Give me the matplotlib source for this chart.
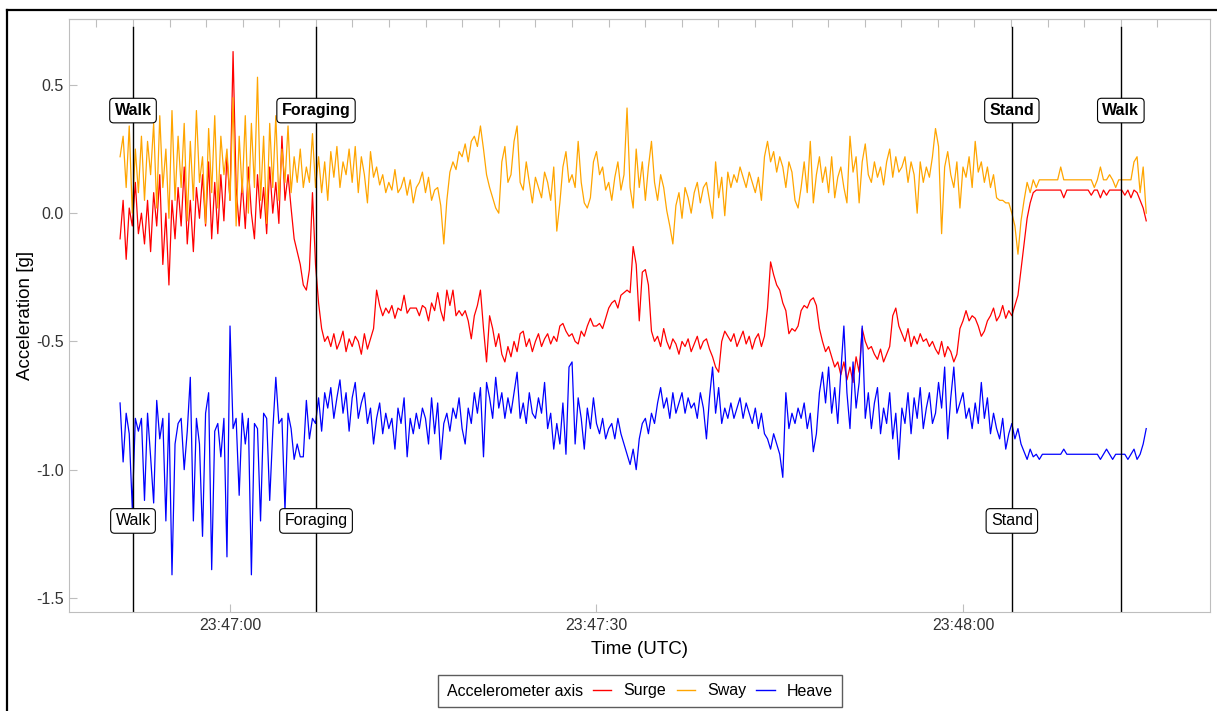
import matplotlib
matplotlib.use("Agg")

import matplotlib.pyplot as plt
import pandas as pd
from matplotlib.lines import Line2D
from matplotlib.offsetbox import HPacker

plt.rcParams["font.family"] = ["Liberation Sans", "DejaVu Sans"]
plt.rcParams["axes.unicode_minus"] = False

# accelerometer trace, one sample every 250 ms from 23:46:51
DAY = "2021-03-14"
START = f"{DAY} 23:46:51"
STEP = "250ms"

surge = [
    -0.10, 0.05, -0.18, 0.02, -0.05, 0.12, -0.08, 0.00,
    -0.12, 0.05, -0.15, 0.08, -0.05, 0.15, -0.20, 0.00,
    -0.28, 0.05, -0.10, 0.10, -0.05, 0.18, -0.12, 0.05,
    -0.15, 0.10, -0.02, 0.15, -0.05, 0.20, -0.10, 0.12,
    -0.08, 0.15, -0.03, 0.22, 0.05, 0.63, 0.10, -0.05,
    0.12, -0.06, 0.18, 0.00, -0.10, 0.15, -0.02, 0.10,
    -0.08, 0.18, 0.00, 0.12, -0.04, 0.30, 0.05, 0.15,
    0.02, -0.10, -0.15, -0.20, -0.28, -0.30, -0.22, 0.08,
    -0.20, -0.35, -0.45, -0.50, -0.48, -0.52, -0.47, -0.53,
    -0.50, -0.46, -0.54, -0.49, -0.52, -0.48, -0.50, -0.55,
    -0.47, -0.53, -0.49, -0.45, -0.30, -0.36, -0.40, -0.37,
    -0.39, -0.36, -0.41, -0.37, -0.38, -0.32, -0.39, -0.37,
    -0.37, -0.37, -0.40, -0.36, -0.37, -0.42, -0.35, -0.38,
    -0.31, -0.38, -0.42, -0.30, -0.36, -0.30, -0.40, -0.38,
    -0.40, -0.38, -0.42, -0.49, -0.40, -0.36, -0.30, -0.45,
    -0.58, -0.40, -0.45, -0.52, -0.47, -0.55, -0.58, -0.52,
    -0.56, -0.50, -0.54, -0.47, -0.46, -0.52, -0.49, -0.54,
    -0.50, -0.47, -0.52, -0.49, -0.47, -0.51, -0.48, -0.50,
    -0.44, -0.43, -0.46, -0.48, -0.47, -0.50, -0.51, -0.46,
    -0.48, -0.44, -0.41, -0.44, -0.44, -0.43, -0.45, -0.41,
    -0.37, -0.35, -0.34, -0.37, -0.32, -0.31, -0.30, -0.31,
    -0.13, -0.20, -0.42, -0.23, -0.22, -0.28, -0.46, -0.50,
    -0.48, -0.52, -0.45, -0.50, -0.53, -0.49, -0.51, -0.55,
    -0.50, -0.52, -0.49, -0.54, -0.51, -0.48, -0.53, -0.50,
    -0.49, -0.53, -0.56, -0.60, -0.62, -0.50, -0.46, -0.48,
    -0.50, -0.47, -0.52, -0.49, -0.46, -0.51, -0.48, -0.53,
    -0.49, -0.47, -0.52, -0.48, -0.37, -0.19, -0.24, -0.28,
    -0.30, -0.35, -0.38, -0.47, -0.45, -0.46, -0.44, -0.38,
    -0.36, -0.37, -0.34, -0.33, -0.36, -0.45, -0.50, -0.54,
    -0.52, -0.56, -0.60, -0.58, -0.63, -0.58, -0.65, -0.60,
    -0.66, -0.56, -0.62, -0.45, -0.50, -0.53, -0.52, -0.55,
    -0.57, -0.53, -0.58, -0.55, -0.52, -0.40, -0.37, -0.44,
    -0.47, -0.50, -0.45, -0.52, -0.48, -0.51, -0.47, -0.50,
    -0.49, -0.52, -0.50, -0.53, -0.55, -0.50, -0.56, -0.52,
    -0.54, -0.58, -0.55, -0.45, -0.42, -0.38, -0.42, -0.40,
    -0.41, -0.44, -0.48, -0.46, -0.42, -0.40, -0.37, -0.42,
    -0.40, -0.36, -0.41, -0.38, -0.40, -0.36, -0.32, -0.22,
    -0.12, -0.02, 0.04, 0.08, 0.09, 0.09, 0.09, 0.09,
    0.09, 0.09, 0.09, 0.09, 0.09, 0.06, 0.09, 0.09,
    0.09, 0.09, 0.09, 0.09, 0.09, 0.09, 0.07, 0.09,
    0.09, 0.06, 0.09, 0.07, 0.09, 0.09, 0.09, 0.09,
    0.09, 0.07, 0.09, 0.06, 0.09, 0.08, 0.05, 0.02,
    -0.03,
]

sway = [
    0.22, 0.30, 0.10, 0.34, 0.00, 0.25, 0.08, 0.30,
    0.05, 0.28, 0.15, 0.35, 0.02, 0.38, 0.10, 0.25,
    -0.02, 0.40, 0.05, 0.30, 0.10, 0.35, -0.03, 0.28,
    0.05, 0.40, 0.12, 0.22, -0.04, 0.33, 0.08, 0.38,
    0.02, 0.30, 0.15, 0.25, 0.05, 0.45, -0.05, 0.30,
    0.08, 0.38, 0.00, 0.35, 0.10, 0.53, 0.05, 0.30,
    -0.04, 0.35, 0.10, 0.38, 0.05, 0.25, 0.12, 0.34,
    0.08, 0.22, 0.12, 0.25, 0.10, 0.18, 0.12, 0.31,
    0.10, 0.22, 0.08, 0.20, 0.05, 0.24, 0.14, 0.26,
    0.10, 0.20, 0.15, 0.25, 0.12, 0.26, 0.08, 0.22,
    0.15, 0.04, 0.24, 0.14, 0.18, 0.11, 0.15, 0.08,
    0.12, 0.09, 0.17, 0.08, 0.10, 0.14, 0.07, 0.13,
    0.04, 0.10, 0.12, 0.16, 0.08, 0.14, 0.05, 0.09,
    0.10, 0.03, -0.12, 0.05, 0.16, 0.20, 0.17, 0.24,
    0.22, 0.27, 0.20, 0.28, 0.30, 0.26, 0.34, 0.25,
    0.15, 0.10, 0.06, 0.02, 0.00, 0.20, 0.26, 0.12,
    0.15, 0.28, 0.34, 0.12, 0.09, 0.20, 0.12, 0.04,
    0.14, 0.10, 0.06, 0.16, 0.12, 0.05, 0.18, -0.07,
    0.04, 0.18, 0.24, 0.12, 0.15, 0.10, 0.28, 0.12,
    0.04, 0.02, 0.06, 0.20, 0.24, 0.15, 0.18, 0.09,
    0.12, 0.05, 0.14, 0.20, 0.09, 0.15, 0.41, 0.10,
    0.02, 0.25, 0.10, 0.20, 0.05, 0.18, 0.28, 0.12,
    0.05, 0.15, 0.10, 0.01, -0.05, -0.12, 0.03, 0.08,
    -0.02, 0.10, 0.06, 0.00, 0.08, 0.12, 0.04, 0.10,
    0.12, 0.05, -0.02, 0.20, 0.06, 0.14, -0.01, 0.16,
    0.10, 0.15, 0.12, 0.18, 0.14, 0.10, 0.16, 0.12,
    0.08, 0.14, 0.05, 0.22, 0.28, 0.20, 0.24, 0.16,
    0.22, 0.18, 0.10, 0.20, 0.16, 0.05, 0.02, 0.10,
    0.20, 0.08, 0.28, 0.04, 0.15, 0.22, 0.12, 0.18,
    0.08, 0.22, 0.06, 0.14, 0.18, 0.10, 0.04, 0.30,
    0.16, 0.22, 0.04, 0.20, 0.27, 0.15, 0.12, 0.20,
    0.14, 0.18, 0.11, 0.20, 0.25, 0.14, 0.22, 0.16,
    0.18, 0.22, 0.12, 0.20, 0.15, 0.00, 0.20, 0.12,
    0.18, 0.14, 0.22, 0.33, 0.26, -0.08, 0.18, 0.24,
    0.15, 0.10, 0.20, 0.02, 0.18, 0.14, 0.22, 0.10,
    0.28, 0.16, 0.20, 0.12, 0.18, 0.10, 0.15, 0.06,
    0.05, 0.05, 0.04, 0.04, 0.00, -0.05, -0.16, -0.03,
    0.05, 0.12, 0.08, 0.13, 0.10, 0.13, 0.13, 0.13,
    0.13, 0.13, 0.13, 0.13, 0.18, 0.13, 0.13, 0.13,
    0.13, 0.13, 0.13, 0.13, 0.13, 0.13, 0.13, 0.10,
    0.13, 0.18, 0.13, 0.13, 0.15, 0.13, 0.10, 0.13,
    0.13, 0.13, 0.13, 0.13, 0.20, 0.22, 0.08, 0.18,
    0.00,
]

heave = [
    -0.74, -0.97, -0.78, -0.86, -1.15, -0.80, -0.85, -0.80,
    -1.12, -0.78, -0.95, -1.13, -0.73, -0.88, -0.80, -1.20,
    -0.78, -1.41, -0.90, -0.82, -0.80, -1.00, -0.85, -0.64,
    -1.20, -0.80, -0.90, -1.26, -0.78, -0.70, -1.39, -0.85,
    -0.82, -0.95, -0.80, -1.34, -0.44, -0.84, -0.80, -1.10,
    -0.78, -0.90, -0.80, -1.41, -0.82, -0.84, -1.20, -0.78,
    -0.80, -1.12, -0.85, -0.64, -0.82, -0.80, -1.16, -0.78,
    -0.84, -0.96, -0.90, -0.95, -0.95, -0.73, -0.88, -0.80,
    -0.82, -0.72, -0.85, -0.70, -0.76, -0.68, -0.80, -0.72,
    -0.65, -0.78, -0.70, -0.85, -0.72, -0.66, -0.80, -0.74,
    -0.70, -0.82, -0.76, -0.90, -0.80, -0.74, -0.86, -0.78,
    -0.84, -0.80, -0.92, -0.76, -0.82, -0.72, -0.95, -0.80,
    -0.86, -0.78, -0.84, -0.76, -0.80, -0.90, -0.72, -0.86,
    -0.74, -0.96, -0.82, -0.78, -0.85, -0.76, -0.80, -0.72,
    -0.84, -0.90, -0.76, -0.82, -0.70, -0.78, -0.68, -0.95,
    -0.66, -0.72, -0.80, -0.64, -0.76, -0.70, -0.80, -0.72,
    -0.78, -0.70, -0.62, -0.80, -0.74, -0.82, -0.70, -0.78,
    -0.80, -0.72, -0.78, -0.66, -0.84, -0.78, -0.92, -0.82,
    -0.90, -0.74, -0.94, -0.60, -0.58, -0.90, -0.72, -0.80,
    -0.92, -0.76, -0.84, -0.72, -0.82, -0.86, -0.80, -0.88,
    -0.84, -0.82, -0.88, -0.80, -0.86, -0.90, -0.94, -0.98,
    -0.92, -1.00, -0.88, -0.82, -0.80, -0.86, -0.78, -0.82,
    -0.74, -0.68, -0.76, -0.72, -0.80, -0.70, -0.78, -0.74,
    -0.70, -0.78, -0.72, -0.76, -0.74, -0.80, -0.70, -0.76,
    -0.88, -0.72, -0.60, -0.78, -0.68, -0.82, -0.76, -0.80,
    -0.74, -0.80, -0.76, -0.72, -0.80, -0.74, -0.78, -0.82,
    -0.76, -0.84, -0.78, -0.86, -0.88, -0.92, -0.86, -0.90,
    -0.94, -1.03, -0.70, -0.84, -0.78, -0.82, -0.76, -0.80,
    -0.74, -0.84, -0.78, -0.93, -0.86, -0.70, -0.62, -0.74,
    -0.60, -0.78, -0.68, -0.82, -0.62, -0.44, -0.70, -0.84,
    -0.58, -0.76, -0.66, -0.44, -0.80, -0.70, -0.84, -0.74,
    -0.68, -0.86, -0.76, -0.82, -0.70, -0.88, -0.78, -0.96,
    -0.76, -0.82, -0.70, -0.86, -0.72, -0.80, -0.68, -0.84,
    -0.76, -0.70, -0.82, -0.78, -0.66, -0.76, -0.60, -0.88,
    -0.72, -0.60, -0.78, -0.74, -0.70, -0.80, -0.76, -0.84,
    -0.74, -0.82, -0.66, -0.80, -0.72, -0.86, -0.78, -0.84,
    -0.88, -0.80, -0.92, -0.86, -0.82, -0.88, -0.84, -0.90,
    -0.93, -0.96, -0.92, -0.95, -0.94, -0.96, -0.94, -0.94,
    -0.94, -0.94, -0.94, -0.94, -0.94, -0.92, -0.94, -0.94,
    -0.94, -0.94, -0.94, -0.94, -0.94, -0.94, -0.94, -0.94,
    -0.94, -0.96, -0.94, -0.92, -0.94, -0.96, -0.94, -0.94,
    -0.94, -0.94, -0.96, -0.94, -0.92, -0.96, -0.94, -0.90,
    -0.84,
]

axis_names = ["Surge", "Sway", "Heave"]
axis_colors = ["#FF0000", "#FFA500", "#0000FF"]

behaviours = ["Walk", "Foraging", "Stand", "Walk"]
behaviour_starts = ["23:46:52.06", "23:47:07.04", "23:48:04.00", "23:48:12.92"]

assert len(surge) == len(sway) == len(heave)

times = pd.date_range(START, periods=len(surge), freq=STEP)
marks = [pd.Timestamp(f"{DAY} {t}") for t in behaviour_starts]
frame_ticks = pd.date_range(f"{DAY} 23:46:49.06", periods=30, freq="2995ms")

W, H = 1217, 711
fig = plt.figure(figsize=(W / 100, H / 100), dpi=100)
ax = fig.add_axes([69 / W, (H - 612) / H, (1210 - 69) / W, (612 - 19) / H])

for values, name, color in zip([surge, sway, heave], axis_names, axis_colors):
    ax.plot(times, values, color=color, lw=0.9, label=name)

ax.set_xlim(pd.Timestamp(f"{DAY} 23:46:46.82"), pd.Timestamp(f"{DAY} 23:48:20.22"))
ax.set_ylim(-1.555, 0.757)

label_box = dict(boxstyle="round,pad=0.3,rounding_size=0.25", fc="white", ec="black", lw=0.8)
for t, name in zip(marks, behaviours):
    ax.axvline(t, ymin=0, ymax=0.9865, color="black", lw=1.0)
    ax.text(t, 0.40, name, ha="center", va="center", fontsize=11.5, fontweight="bold",
            bbox=label_box)
for t, name in zip(marks[:3], behaviours[:3]):
    ax.text(t, -1.20, name, ha="center", va="center", fontsize=11.5, bbox=label_box)

ax.set_xticks([pd.Timestamp(f"{DAY} 23:47:00"), pd.Timestamp(f"{DAY} 23:47:30"),
               pd.Timestamp(f"{DAY} 23:48:00")])
ax.set_xticklabels(["23:47:00", "23:47:30", "23:48:00"])
ax.set_yticks([0.5, 0.0, -0.5, -1.0, -1.5])
ax.set_yticklabels(["0.5", "0.0", "-0.5", "-1.0", "-1.5"])
ax.tick_params(direction="in", length=5.8, width=0.8, color="#BEBEBE",
               labelsize=11.5, labelcolor="#333333", pad=4)

top = ax.secondary_xaxis("top")
top.set_xticks(frame_ticks)
top.tick_params(direction="in", length=5.8, width=0.8, color="#BEBEBE", labeltop=False)
top.spines["top"].set_color("#BEBEBE")

for spine in ax.spines.values():
    spine.set_color("#BEBEBE")
    spine.set_linewidth(0.8)

ax.set_xlabel("Time (UTC)", fontsize=13.5, labelpad=6)
ax.set_ylabel("Acceleration [g]", fontsize=13.5, labelpad=1)

handles = [Line2D([], [], color=c, lw=1.0) for c in axis_colors]
leg = fig.legend(handles, axis_names, title="Accelerometer axis", ncol=3, loc="center",
                 bbox_to_anchor=(640 / W, 20 / H), frameon=True, fancybox=False,
                 edgecolor="#333333", fontsize=11.5, title_fontsize=11.5,
                 handlelength=1.15, handletextpad=0.75, columnspacing=0.65, borderpad=0.55)
leg.get_frame().set_linewidth(1.0)
# title sits on the left of the keys instead of above them
leg._legend_box._children = [
    HPacker(pad=0, sep=7, align="center",
            children=[leg._legend_title_box, leg._legend_handle_box])
]

# outer frame of the figure
fig.add_artist(Line2D([7 / W, 1], [(H - 10) / H, (H - 10) / H], color="black", lw=1.6))
fig.add_artist(Line2D([7 / W, 7 / W], [0, (H - 10) / H], color="black", lw=1.6))

fig.savefig("out.png", dpi=100)
